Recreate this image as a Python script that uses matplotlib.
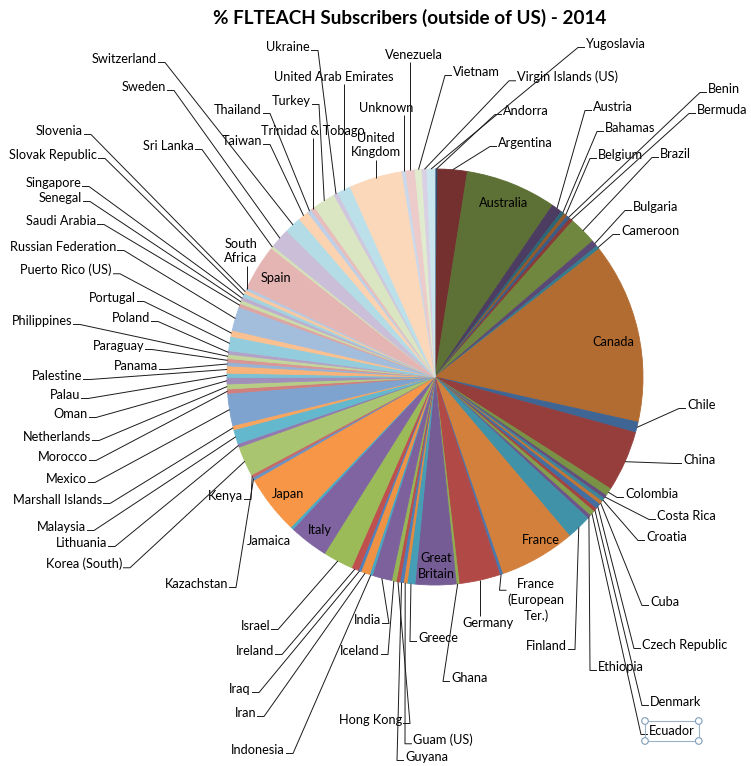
import matplotlib
matplotlib.use("Agg")
import matplotlib.pyplot as plt
import numpy as np
from matplotlib.patches import Rectangle, Circle
from matplotlib.colors import to_rgb

# ---------------- data ----------------
countries = [
    "Andorra", "Argentina", "Australia", "Austria", "Bahamas", "Belgium", "Benin",
    "Bermuda", "Brazil", "Bulgaria", "Cameroon", "Canada", "Chile", "China",
    "Colombia", "Costa Rica", "Croatia", "Cuba", "Czech Republic", "Denmark",
    "Ecuador", "Ethiopia", "Finland", "France", "France (European Ter.)",
    "Germany", "Ghana", "Great Britain", "Greece", "Guam (US)", "Guyana",
    "Hong Kong", "Iceland", "India", "Indonesia", "Iran", "Iraq", "Ireland",
    "Israel", "Italy", "Jamaica", "Japan", "Kazachstan", "Kenya", "Korea (South)",
    "Lithuania", "Malaysia", "Marshall Islands", "Mexico", "Morocco",
    "Netherlands", "Oman", "Palau", "Palestine", "Panama", "Paraguay",
    "Philippines", "Poland", "Portugal", "Puerto Rico (US)", "Russian Federation",
    "Saudi Arabia", "Senegal", "Singapore", "Slovak Republic", "Slovenia",
    "South Africa", "Spain", "Sri Lanka", "Sweden", "Switzerland", "Taiwan",
    "Thailand", "Trinidad & Tobago", "Turkey", "Ukraine", "United Arab Emirates",
    "United Kingdom", "Unknown", "Venezuela", "Vietnam", "Virgin Islands (US)",
    "Yugoslavia",
]

percent = [
    0.22, 2.28, 7.06, 0.83, 0.28, 0.28, 0.28,
    0.28, 2.17, 0.50, 0.28, 14.03, 0.83, 4.72,
    0.61, 0.28, 0.28, 0.28, 0.42, 0.28,
    0.42, 0.28, 1.94, 5.92, 0.22,
    3.19, 0.22, 3.17, 0.61, 0.28, 0.28,
    0.28, 0.36, 1.53, 0.22, 0.69, 0.22, 0.56,
    2.33, 3.06, 0.22, 4.58, 0.22, 0.22, 2.33,
    0.28, 1.11, 0.33, 2.50, 0.33,
    0.39, 0.50, 0.33, 0.56, 0.28, 0.28,
    0.33, 0.28, 1.11, 0.47, 1.86,
    0.28, 0.28, 0.28, 0.28, 0.28,
    0.22, 3.53, 0.22, 1.56, 1.31, 0.83,
    0.33, 0.33, 1.75, 0.33, 1.06,
    4.14, 0.28, 0.72, 0.53, 0.39,
    0.61,
]

title = "% FLTEACH Subscribers (outside of US) - 2014"

# ---------------- style ----------------
W, H = 751, 766
CX, CY, R = 435, 377, 208          # pie centre / radius in pixels (y from top)
FS = 9.2
FAMILY = ["Lato", "DejaVu Sans"]
plt.rcParams["font.family"] = FAMILY

ACCENTS = ["#4F81BD", "#C0504D", "#9BBB59", "#8064A2", "#4BACC6", "#F79646"]
SHADES = [0.60, 0.72, 0.78, 0.85, 0.92, 0.97, 1.00]
TINTS = [0.14, 0.27, 0.40, 0.48, 0.58, 0.63, 0.70]


def point_color(i):
    base = np.array(to_rgb(ACCENTS[i % 6]))
    k = i // 6
    if k < len(SHADES):
        return tuple(base * SHADES[k])
    t = TINTS[k - len(SHADES)]
    return tuple(base + (1 - base) * t)


colors = [point_color(i) for i in range(len(countries))]

# label text overrides (line breaks)
label_text = {
    "United Kingdom": "United\nKingdom",
    "South Africa": "South\nAfrica",
    "Great Britain": "Great\nBritain",
    "France (European Ter.)": "France\n(European\nTer.)",
}

# layout: name -> (x, y_from_top, ha, attach)   attach: in / l / r / b / t
layout = {
    "Andorra": (503, 111, "left", "l"),
    "Argentina": (498, 143, "left", "l"),
    "Australia": (504, 203, "center", "in"),
    "Austria": (593, 107, "left", "l"),
    "Bahamas": (605, 128, "left", "l"),
    "Belgium": (598, 155, "left", "l"),
    "Benin": (708, 89, "left", "l"),
    "Bermuda": (697, 110, "left", "l"),
    "Brazil": (660, 154, "left", "l"),
    "Bulgaria": (633, 207, "left", "l"),
    "Cameroon": (621, 231, "left", "l"),
    "Canada": (613, 342, "center", "in"),
    "Chile": (687, 405, "left", "l"),
    "China": (683, 460, "left", "l"),
    "Colombia": (625, 494, "left", "l"),
    "Costa Rica": (657, 516, "left", "l"),
    "Croatia": (646, 537, "left", "l"),
    "Cuba": (650, 602, "left", "l"),
    "Czech Republic": (642, 645, "left", "l"),
    "Denmark": (650, 702, "left", "l"),
    "Ecuador": (649, 731, "left", "l"),
    "Ethiopia": (598, 667, "left", "l"),
    "Finland": (567, 646, "right", "r"),
    "France": (541, 540, "center", "in"),
    "France (European Ter.)": (536, 600, "center", "l"),
    "Germany": (488, 623, "center", "t"),
    "Ghana": (451, 678, "left", "l"),
    "Great Britain": (436, 566, "center", "in"),
    "Greece": (418, 638, "left", "l"),
    "Guam (US)": (413, 740, "left", "l"),
    "Guyana": (405, 757, "left", "l"),
    "Hong Kong": (402, 720, "right", "r"),
    "Iceland": (380, 651, "right", "r"),
    "India": (381, 620, "right", "r"),
    "Indonesia": (285, 750, "right", "r"),
    "Iran": (256, 713, "right", "r"),
    "Iraq": (251, 689, "right", "r"),
    "Ireland": (274, 651, "right", "r"),
    "Israel": (270, 626, "right", "r"),
    "Italy": (320, 530, "center", "in"),
    "Jamaica": (291, 541, "right", "in"),
    "Japan": (288, 494, "center", "in"),
    "Kazachstan": (228, 584, "right", "r"),
    "Kenya": (243, 496, "right", "r"),
    "Korea (South)": (122, 564, "right", "r"),
    "Lithuania": (107, 543, "right", "r"),
    "Malaysia": (86, 527, "right", "r"),
    "Marshall Islands": (102, 500, "right", "r"),
    "Mexico": (87, 479, "right", "r"),
    "Morocco": (88, 457, "right", "r"),
    "Netherlands": (91, 437, "right", "r"),
    "Oman": (88, 414, "right", "r"),
    "Palau": (80, 395, "right", "r"),
    "Palestine": (82, 376, "right", "r"),
    "Panama": (158, 366, "right", "r"),
    "Paraguay": (144, 346, "right", "r"),
    "Philippines": (72, 321, "right", "r"),
    "Poland": (150, 318, "right", "r"),
    "Portugal": (136, 298, "right", "r"),
    "Puerto Rico (US)": (112, 270, "right", "r"),
    "Russian Federation": (116, 247, "right", "r"),
    "Saudi Arabia": (96, 221, "right", "r"),
    "Senegal": (82, 198, "right", "r"),
    "Singapore": (81, 183, "right", "r"),
    "Slovak Republic": (97, 155, "right", "r"),
    "Slovenia": (83, 131, "right", "r"),
    "South Africa": (241, 251, "center", "b"),
    "Spain": (276, 278, "center", "in"),
    "Sri Lanka": (194, 146, "right", "r"),
    "Sweden": (166, 87, "right", "r"),
    "Switzerland": (157, 59, "right", "r"),
    "Taiwan": (262, 141, "right", "r"),
    "Thailand": (262, 110, "right", "r"),
    "Trinidad & Tobago": (313, 131, "center", "b"),
    "Turkey": (311, 101, "right", "r"),
    "Ukraine": (310, 47, "right", "r"),
    "United Arab Emirates": (334, 77, "center", "b"),
    "United Kingdom": (376, 145, "center", "b"),
    "Unknown": (386, 108, "center", "b"),
    "Venezuela": (414, 55, "center", "b"),
    "Vietnam": (453, 72, "left", "l"),
    "Virgin Islands (US)": (517, 77, "left", "l"),
    "Yugoslavia": (586, 44, "left", "l"),
}

# ---------------- figure ----------------
fig = plt.figure(figsize=(W / 100, H / 100), dpi=100)
ax = fig.add_axes([0, 0, 1, 1])

wedges, _ = ax.pie(percent, colors=colors, startangle=90, counterclock=False,
                   radius=R, center=(CX, H - CY),
                   wedgeprops=dict(linewidth=0.6))
for w in wedges:
    w.set_edgecolor(w.get_facecolor())

ax.set_aspect("auto")
ax.set_xlim(0, W)
ax.set_ylim(0, H)
ax.axis("off")

ax.text(410, H - 18, title, ha="center", va="center", fontsize=13.6,
        fontweight="bold", color="#000000")

texts = {}
for name in countries:
    x, y, ha, att = layout[name]
    t = ax.text(x, H - y, label_text.get(name, name), ha=ha, va="center",
                fontsize=FS, color="#000000", linespacing=1.3,
                multialignment="center")
    texts[name] = t

fig.canvas.draw()
renderer = fig.canvas.get_renderer()


def edge_point(w):
    th = np.deg2rad((w.theta1 + w.theta2) / 2.0)
    return w.center[0] + w.r * np.cos(th), w.center[1] + w.r * np.sin(th)


for name, w in zip(countries, wedges):
    x, y, ha, att = layout[name]
    if att == "in":
        continue
    bb = texts[name].get_window_extent(renderer)
    ex, ey = edge_point(w)
    nlines = label_text.get(name, name).count("\n") + 1
    if att in ("l", "r"):
        line_h = bb.height / nlines
        ay = bb.y1 - line_h + 2.5          # bottom of the (first) text line
        if att == "l":
            ax0 = bb.x0 - 1
            sx = ax0 - 7
        else:
            ax0 = bb.x1 + 1
            sx = ax0 + 7
        xs, ys = [ax0, sx, ex], [ay, ay, ey]
    elif att == "b":
        ax0 = float(np.clip(ex, bb.x0 + 3, bb.x1 - 3))
        xs, ys = [ax0, ex], [bb.y0 - 1, ey]
    else:  # 't'
        ax0 = float(np.clip(ex, bb.x0 + 3, bb.x1 - 3))
        xs, ys = [ax0, ex], [bb.y1 + 1, ey]
    ax.plot(xs, ys, color="#1a1a1a", lw=0.7, solid_capstyle="butt", zorder=3)

# selection box around the "Ecuador" label (as in the reference screenshot)
bb = texts["Ecuador"].get_window_extent(renderer)
x0, y0, x1, y1 = bb.x0 - 4, bb.y0 - 4, bb.x1 + 4, bb.y1 + 4
ax.add_patch(Rectangle((x0, y0), x1 - x0, y1 - y0, fill=False,
                       edgecolor="#9DB1C9", lw=0.8, zorder=4))
for cx_, cy_ in [(x0, y0), (x1, y0), (x0, y1), (x1, y1)]:
    ax.add_patch(Circle((cx_, cy_), 3.3, facecolor="white",
                        edgecolor="#7F9DB9", lw=0.8, zorder=5))

fig.savefig("out.png", dpi=100)
